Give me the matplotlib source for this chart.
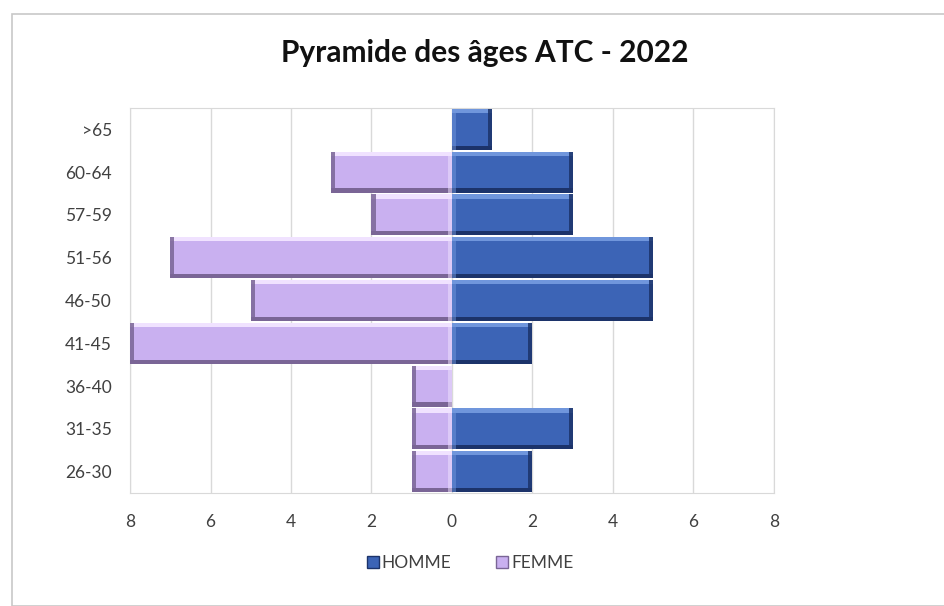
import numpy as np
import matplotlib.pyplot as plt
from matplotlib.patches import Rectangle

plt.rcParams['font.family'] = ['Lato', 'DejaVu Sans']

ages = ["26-30", "31-35", "36-40", "41-45", "46-50", "51-56", "57-59", "60-64", ">65"]
homme = [2, 3, 0, 2, 5, 5, 3, 3, 1]
femme = [1, 1, 1, 8, 5, 7, 2, 3, 0]
ticks = [-8, -6, -4, -2, 0, 2, 4, 6, 8]

BLUE, BLUE_HI, BLUE_LO = "#3c64b6", "#7096dc", "#1c336a"
LILAC, LILAC_HI, LILAC_LO = "#c9b0f0", "#f0e2ff", "#7a6596"


def bevel_bars(ax, y, x0, x1, base, hi, lo):
    # x0 = end at zero, x1 = outer end
    y = np.array(y, dtype=float)
    x0 = np.array(x0, dtype=float)
    x1 = np.array(x1, dtype=float)
    left = np.minimum(x0, x1)
    width = np.abs(x1 - x0)
    h = 0.96
    b = 0.1
    e = 0.1 * np.sign(x1 - x0)
    ax.barh(y, width, left=left, height=h, color=base, linewidth=0, zorder=3)
    ax.barh(y + h / 2 - b / 2, width, left=left, height=b, color=hi, linewidth=0, zorder=4)
    ax.barh(y - h / 2 + b / 2, width, left=left, height=b, color=lo, linewidth=0, zorder=4)
    # outer end darker, inner end lighter
    ax.barh(y, -e, left=x1, height=h, color=lo, alpha=0.85, linewidth=0, zorder=5)
    ax.barh(y, e, left=x0, height=h, color=hi, alpha=0.5, linewidth=0, zorder=5)


fig = plt.figure(figsize=(9.44, 6.06), dpi=100)
fig.patches.append(Rectangle((12 / 944, 0.0), 1, 1 - 14 / 606, transform=fig.transFigure,
                             fill=False, edgecolor="#c8c8c8", linewidth=1.2))

ax = fig.add_axes([130 / 944, 1 - 493 / 606, 644 / 944, 385 / 606])
y = np.arange(len(ages))
h = np.array(homme, dtype=float)
f = np.array(femme, dtype=float)
mh = h > 0
mf = f > 0
bevel_bars(ax, y[mh], np.zeros(mh.sum()), h[mh], BLUE, BLUE_HI, BLUE_LO)
bevel_bars(ax, y[mf], np.zeros(mf.sum()), -f[mf], LILAC, LILAC_HI, LILAC_LO)

ax.set_xlim(-8, 8)
ax.set_ylim(-0.5, len(ages) - 0.5)
ax.set_xticks(ticks)
ax.set_xticklabels([str(abs(t)) for t in ticks])
ax.set_yticks(y)
ax.set_yticklabels(ages)
ax.tick_params(length=0, labelsize=12.5, colors="#404040", pad=15)
ax.tick_params(axis="y", pad=13)
ax.grid(axis="x", color="#d9d9d9", linewidth=1, zorder=0)
ax.set_axisbelow(True)
for s in ax.spines.values():
    s.set_color("#d9d9d9")

fig.text(485 / 944, 1 - 53 / 606, "Pyramide des âges ATC - 2022", ha="center", va="center",
         fontsize=21.5, fontweight="bold", color="#111111")

handles = [Rectangle((0, 0), 1, 1, facecolor=BLUE, edgecolor=BLUE_LO),
           Rectangle((0, 0), 1, 1, facecolor=LILAC, edgecolor=LILAC_LO)]
fig.legend(handles, ["HOMME", "FEMME"], loc="center", bbox_to_anchor=(470 / 944, 1 - 563 / 606),
           ncol=2, frameon=False, fontsize=12.5, handlelength=0.7, handleheight=0.7,
           handletextpad=0.15, columnspacing=2.6, labelcolor="#404040")

fig.savefig("out.png", dpi=100)
